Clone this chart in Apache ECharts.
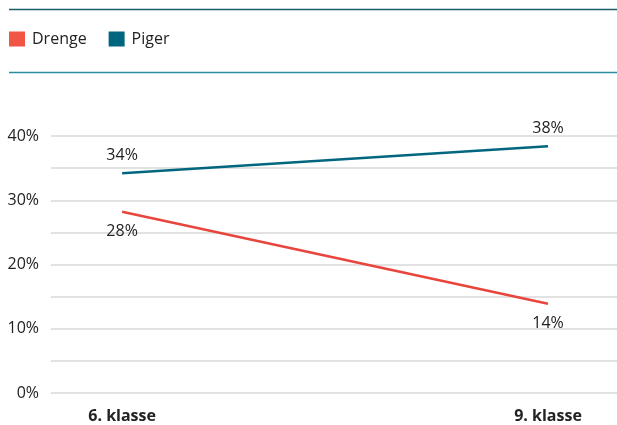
<!DOCTYPE html>
<html>
<head>
<meta charset="utf-8">
<script src="https://cdn.jsdelivr.net/npm/echarts@6/dist/echarts.min.js"></script>
<style>
html,body{margin:0;padding:0;background:#fff;}
#chart{width:617px;height:425px;}
</style>
</head>
<body>
<div id="chart"></div>
<script>
var categories = ['6. klasse', '9. klasse'];
var drenge = [28.2, 13.9];
var piger = [34.2, 38.4];
var yTicks = [0, 10, 20, 30, 40];

var chart = echarts.init(document.getElementById('chart'));
var font = '"Open Sans", sans-serif';
function pts(arr){ return arr.map(function(v,i){ return [i, v]; }); }

chart.setOption({
  animation: false,
  textStyle: { fontFamily: font },
  graphic: [
    { type: 'line', shape: { x1: 9, y1: 9.5, x2: 617, y2: 9.5 }, style: { stroke: '#1b5e72', lineWidth: 1.5 } },
    { type: 'line', shape: { x1: 9, y1: 72.5, x2: 617, y2: 72.5 }, style: { stroke: '#2a8ca3', lineWidth: 1.5 } }
  ],
  legend: {
    left: 9, top: 31, padding: 0,
    icon: 'rect', itemWidth: 16, itemHeight: 15, itemGap: 22,
    textStyle: { fontFamily: font, fontSize: 16, color: '#222', padding: [0, 0, 0, 2] },
    data: ['Drenge', 'Piger']
  },
  grid: { left: 51, right: 0, top: 136, bottom: 32, containLabel: false },
  xAxis: {
    type: 'value', min: -0.167, max: 1.162,
    axisLine: { show: false }, axisTick: { show: false }, splitLine: { show: false },
    axisLabel: {
      customValues: [0, 1],
      formatter: function(v){ return categories[Math.round(v)] || ''; },
      fontFamily: font, fontSize: 16, fontWeight: 'bold', color: '#222', margin: 15
    }
  },
  yAxis: {
    type: 'value', min: 0, max: 40, interval: 5,
    axisLine: { show: false }, axisTick: { show: false },
    splitLine: { lineStyle: { color: '#d9d9d9', width: 1.5 } },
    axisLabel: {
      formatter: function(v){ return yTicks.indexOf(v) >= 0 ? v + '%' : ''; },
      fontFamily: font, fontSize: 16, color: '#222', margin: 12
    }
  },
  series: [
    {
      name: 'Drenge', type: 'line', data: pts(drenge),
      color: '#f05545',
      lineStyle: { color: '#e8453c', width: 2.5 },
      symbol: 'circle', symbolSize: 0, showSymbol: true,
      label: { show: true, position: 'bottom', distance: 12, formatter: function(p){ return Math.round(p.value[1]) + '%'; }, fontFamily: font, fontSize: 16, color: '#222' }
    },
    {
      name: 'Piger', type: 'line', data: pts(piger),
      color: '#00667f',
      lineStyle: { color: '#00667f', width: 2.5 },
      symbol: 'circle', symbolSize: 0, showSymbol: true,
      label: { show: true, position: 'top', distance: 10, formatter: function(p){ return Math.round(p.value[1]) + '%'; }, fontFamily: font, fontSize: 16, color: '#222' }
    }
  ]
});
</script>
</body>
</html>
